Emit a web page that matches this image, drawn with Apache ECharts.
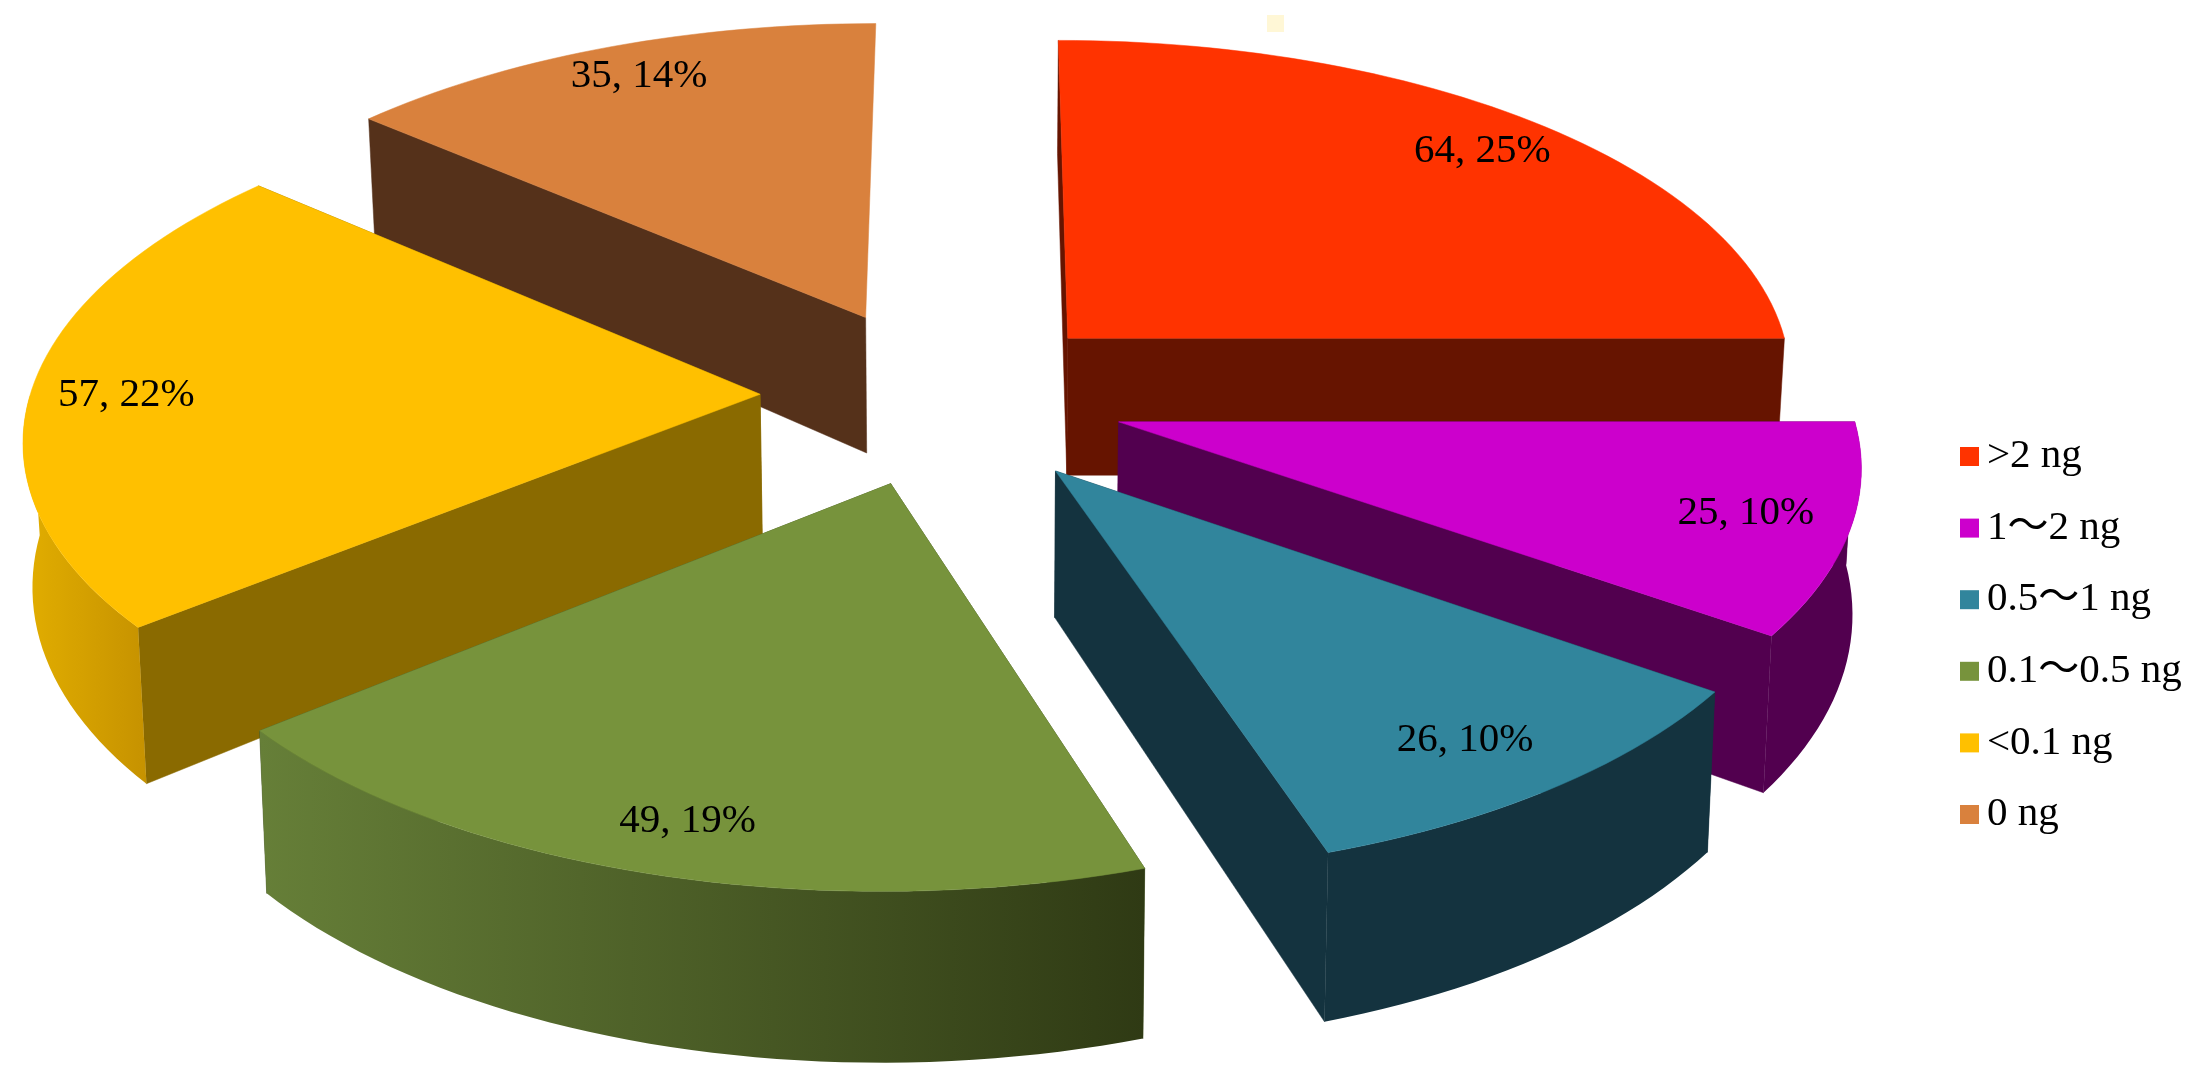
<!DOCTYPE html>
<html>
<head>
<meta charset="utf-8">
<style>
  html, body { margin: 0; padding: 0; background: #fff; }
  #chart { width: 2207px; height: 1086px; }
</style>
<script src="https://cdn.jsdelivr.net/npm/echarts@6/dist/echarts.min.js"></script>
</head>
<body>
<div id="chart"></div>
<script>
const categories = ['>2 ng', '1～2 ng', '0.5～1 ng', '0.1～0.5 ng', '<0.1 ng', '0 ng']
const counts = [64, 25, 26, 49, 57, 35]

// colours per slice
const topColors = ['#FF3300', '#CC00CC', '#31859C', '#77933C', '#FFC000', '#D9813D']
const wallColors = ['#661400', '#52004F', '#14333F', '#3E4F1C', '#8A6A00', '#55311A']
const rimLeft = ['#661400', '#52004F', '#14333F', '#667F38', '#E2AE00', '#55311A']
const rimRight = ['#661400', '#52004F', '#14333F', '#2F3A14', '#C69200', '#55311A']

// how far each slice is pulled out, in pie radii (x right, y away from the viewer)
const explodeX = [0.135, 0.2005, 0.113, -0.107, -0.289, -0.148]
const explodeY = [0.207, -0.04, -0.179, -0.214, 0.04, 0.27]
// paint order, back slices first
const paintOrder = [1, 4, 5, 6, 3, 2]
// small label corrections in px
const labelNudgeX = [7, -6, -18, 6, 0, 3]
const labelNudgeY = [3, -3, -3, 4, 5, -4]

const total = counts.reduce((a, b) => a + b, 0)
const startAngles = []
let sum = 0
counts.forEach((c) => {
  startAngles.push(sum / total * 360)
  sum += c
})

// perspective of the tilted pie
const CX = 971
const CY = 408
const RX = 733
const RY = 345
const PERSP_X = 0.11
const PERSP_Y = 0.11
const DEPTH = 142
const DEPTH_PERSP = 0.17
const BOTTOM_SHRINK = 0.99
const LABEL_R = 0.87

const project = (x, y, bottom) => {
  let px = CX + RX * x / (1 + PERSP_X * y)
  let py = CY - RY * y / (1 + PERSP_Y * y)
  if (bottom) {
    px = CX + (px - CX) * BOTTOM_SHRINK
    py += DEPTH * (1 - DEPTH_PERSP * y)
  }
  return [px, py]
}

const onRim = (i, deg, r) => {
  const a = deg * Math.PI / 180
  return [explodeX[i] + r * Math.sin(a), explodeY[i] + r * Math.cos(a)]
}

const arc = (i, from, to, bottom) => {
  const pts = []
  const steps = Math.max(2, Math.ceil((to - from) / 1.5))
  for (let s = 0; s <= steps; s++) {
    const w = onRim(i, from + (to - from) * s / steps, 1)
    pts.push(project(w[0], w[1], bottom))
  }
  return pts
}

const wall = (i, deg) => {
  const apexTop = project(explodeX[i], explodeY[i], false)
  const apexBottom = project(explodeX[i], explodeY[i], true)
  const w = onRim(i, deg, 1)
  return [apexTop, project(w[0], w[1], false), project(w[0], w[1], true), apexBottom]
}

const renderSlice = (params, api) => {
  const i = params.seriesIndex
  const value = api.value(0)
  const from = startAngles[i]
  const to = from + value / total * 360
  const children = []

  // two flat cut faces, the one further back goes first
  // the last slice's closing face looks away from the viewer, so leave it out
  const walls = i === counts.length - 1 ? [wall(i, from)] : [wall(i, from), wall(i, to)]
  const meanY = (p) => p.reduce((a, b) => a + b[1], 0) / p.length
  walls.sort((a, b) => meanY(a) - meanY(b))
  walls.forEach((pts) => {
    children.push({
      type: 'polygon',
      shape: { points: pts },
      style: { fill: wallColors[i], stroke: wallColors[i], lineWidth: 0.5 }
    })
  })

  // curved outside, only the half that faces the viewer
  const rimFrom = Math.max(from, 90)
  const rimTo = Math.min(to, 270)
  if (rimTo - rimFrom > 0.5) {
    const upper = arc(i, rimFrom, rimTo, false)
    const lower = arc(i, rimFrom, rimTo, true)
    const pts = upper.concat(lower.reverse())
    const xs = pts.map((p) => p[0])
    children.push({
      type: 'polygon',
      shape: { points: pts },
      style: {
        fill: new echarts.graphic.LinearGradient(Math.min(...xs), 0, Math.max(...xs), 0, [
          { offset: 0, color: rimLeft[i] },
          { offset: 1, color: rimRight[i] }
        ], true)
      }
    })
  }

  // top face
  const apex = project(explodeX[i], explodeY[i], false)
  children.push({
    type: 'polygon',
    shape: { points: [apex].concat(arc(i, from, to, false)) },
    style: { fill: topColors[i], stroke: topColors[i], lineWidth: 0.5 }
  })

  // label
  const mid = onRim(i, (from + to) / 2, LABEL_R)
  const lp = project(mid[0], mid[1], false)
  children.push({
    type: 'text',
    style: {
      x: lp[0] + labelNudgeX[i],
      y: lp[1] + labelNudgeY[i],
      text: value + ', ' + Math.round(value / total * 100) + '%',
      fill: '#000',
      font: '41px "Liberation Serif"',
      align: 'center',
      verticalAlign: 'middle'
    }
  })

  return { type: 'group', children: children }
}

const chart = echarts.init(document.getElementById('chart'))

chart.setOption({
  animation: false,
  backgroundColor: '#fff',
  legend: {
    orient: 'vertical',
    left: 1955,
    top: 431,
    icon: 'rect',
    itemWidth: 19,
    itemHeight: 19,
    itemGap: 30.6,
    selectedMode: false,
    data: categories,
    textStyle: {
      color: '#000',
      fontFamily: '"Liberation Serif", "Noto Sans CJK JP"',
      fontSize: 41,
      lineHeight: 36,
      padding: [0, 0, 0, 3]
    }
  },
  graphic: [
    // pale speck above the pie in the source image
    { type: 'rect', left: 1267, top: 15, shape: { width: 17, height: 17 }, style: { fill: '#FFF7D6' } }
  ],
  series: categories.map((name, i) => ({
    type: 'custom',
    name: name,
    coordinateSystem: 'none',
    z: paintOrder[i],
    itemStyle: { color: topColors[i] },
    renderItem: renderSlice,
    data: [[counts[i]]]
  }))
})

window.onresize = function () {
  chart.resize()
}
</script>
</body>
</html>
